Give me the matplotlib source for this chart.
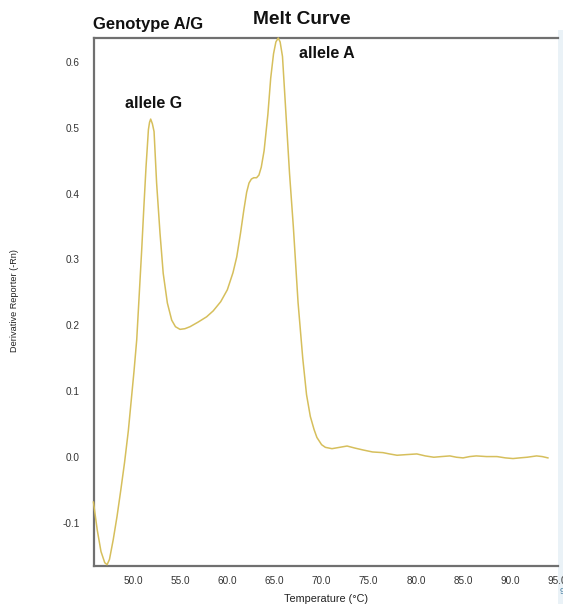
import matplotlib
matplotlib.use("Agg")
import matplotlib.pyplot as plt
from matplotlib.patches import Rectangle

# ---- data ----
temperature = [45.8, 46.2, 46.6, 47.0, 47.25, 47.5, 47.9, 48.3, 48.7, 49.1,
               49.5, 49.8, 50.1, 50.39, 50.65, 50.92, 51.15, 51.38, 51.52, 51.63,
               51.75, 51.87, 52.05, 52.23, 52.5, 52.86, 53.2, 53.64, 54.1, 54.5,
               54.98, 55.5, 56.04, 56.9, 57.8, 58.5, 59.3, 60.0, 60.6, 61.0,
               61.4, 61.75, 62.05, 62.3, 62.55, 62.8, 63.1, 63.35, 63.6, 63.9,
               64.3, 64.6, 64.9, 65.15, 65.4, 65.6, 65.85, 66.2, 66.6, 67.0,
               67.5, 68.0, 68.4, 68.8, 69.2, 69.5, 70.0, 70.4, 71.1, 71.9,
               72.7, 73.5, 74.4, 75.4, 76.5, 77.2, 78.0, 79.0, 80.1, 81.0,
               81.9, 82.7, 83.6, 84.3, 85.0, 85.7, 86.4, 87.5, 88.6, 89.5,
               90.3, 91.0, 91.8, 92.8, 93.4, 94.0]
derivative = [-0.068, -0.110, -0.143, -0.160, -0.163, -0.155, -0.125, -0.090, -0.050, -0.008,
              0.040, 0.085, 0.130, 0.178, 0.245, 0.315, 0.380, 0.441, 0.472, 0.497,
              0.508, 0.513, 0.506, 0.494, 0.416, 0.340, 0.279, 0.234, 0.208, 0.198,
              0.194, 0.195, 0.198, 0.205, 0.213, 0.222, 0.236, 0.254, 0.280, 0.304,
              0.340, 0.375, 0.402, 0.416, 0.422, 0.424, 0.424, 0.428, 0.440, 0.465,
              0.520, 0.575, 0.612, 0.630, 0.636, 0.630, 0.608, 0.525, 0.430, 0.350,
              0.235, 0.150, 0.095, 0.062, 0.042, 0.030, 0.019, 0.015, 0.013, 0.015,
              0.017, 0.014, 0.011, 0.008, 0.007, 0.005, 0.003, 0.004, 0.005, 0.002,
              0.000, 0.001, 0.002, 0.000, -0.001, 0.001, 0.002, 0.001, 0.001, -0.001,
              -0.002, -0.001, 0.000, 0.002, 0.001, -0.001]

x_ticks = [50, 55, 60, 65, 70, 75, 80, 85, 90, 95]
x_tick_labels = ["50.0", "55.0", "60.0", "65.0", "70.0", "75.0", "80.0", "85.0", "90.0", "95.0"]
y_ticks = [-0.1, 0.0, 0.1, 0.2, 0.3, 0.4, 0.5, 0.6]
y_tick_labels = ["-0.1", "0.0", "0.1", "0.2", "0.3", "0.4", "0.5", "0.6"]

title = "Melt Curve"
subtitle = "Genotype A/G"
peak_labels = ["allele G", "allele A"]
x_label = "Temperature (°C)"
y_label = "Derivative Reporter (-Rn)"

# ---- figure ----
W, H = 563, 604
fig = plt.figure(figsize=(W / 100, H / 100), dpi=100)
fig.patch.set_facecolor("white")
plt.rcParams["font.family"] = ["Liberation Sans", "DejaVu Sans"]

ax_l, ax_r, ax_t, ax_b = 94, 558, 38, 566
ax = fig.add_axes([ax_l / W, 1 - ax_b / H, (ax_r - ax_l) / W, (ax_b - ax_t) / H])

# pale blue strip at the right edge
fig.add_artist(Rectangle((558 / W, 0), 5 / W, 1 - 30 / H, transform=fig.transFigure,
                         facecolor="#eaf2f7", edgecolor="none", zorder=0))

ax.plot(temperature, derivative, color="#d6bf5c", lw=1.1, clip_on=False, zorder=3,
        solid_joinstyle="round")

ax.set_xlim(45.86, 95.07)
ax.set_ylim(-0.165, 0.636)
ax.set_xticks(x_ticks)
ax.set_xticklabels(x_tick_labels)
ax.set_yticks(y_ticks)
ax.set_yticklabels(y_tick_labels)
ax.tick_params(axis="both", length=0, labelsize=7.2, colors="#333333")
ax.tick_params(axis="y", pad=10)
ax.tick_params(axis="x", pad=7)

for side in ["left", "bottom", "top"]:
    ax.spines[side].set_color("#707070")
    ax.spines[side].set_linewidth(1.6)
ax.spines["right"].set_visible(False)

ax.set_xlabel(x_label, fontsize=7.8, color="#222222", labelpad=6)
fig.text(15 / W, 1 - 301 / H, y_label, rotation=90, fontsize=6.6,
         color="#222222", ha="center", va="center")

fig.text(302 / W, 1 - 19 / H, title, fontsize=13.8, fontweight="bold",
         ha="center", va="center", color="#111111")
fig.text(93 / W, 1 - 24 / H, subtitle, fontsize=12, fontweight="bold",
         ha="left", va="center", color="#111111")
fig.text(125 / W, 1 - 103 / H, peak_labels[0], fontsize=11.5, fontweight="bold",
         ha="left", va="center", color="#111111")
fig.text(299 / W, 1 - 53 / H, peak_labels[1], fontsize=11.5, fontweight="bold",
         ha="left", va="center", color="#111111")
fig.text(560 / W, 1 - 591 / H, "9", fontsize=6.5, color="#4a7fa0",
         ha="left", va="center")

fig.savefig("out.png", dpi=100)
